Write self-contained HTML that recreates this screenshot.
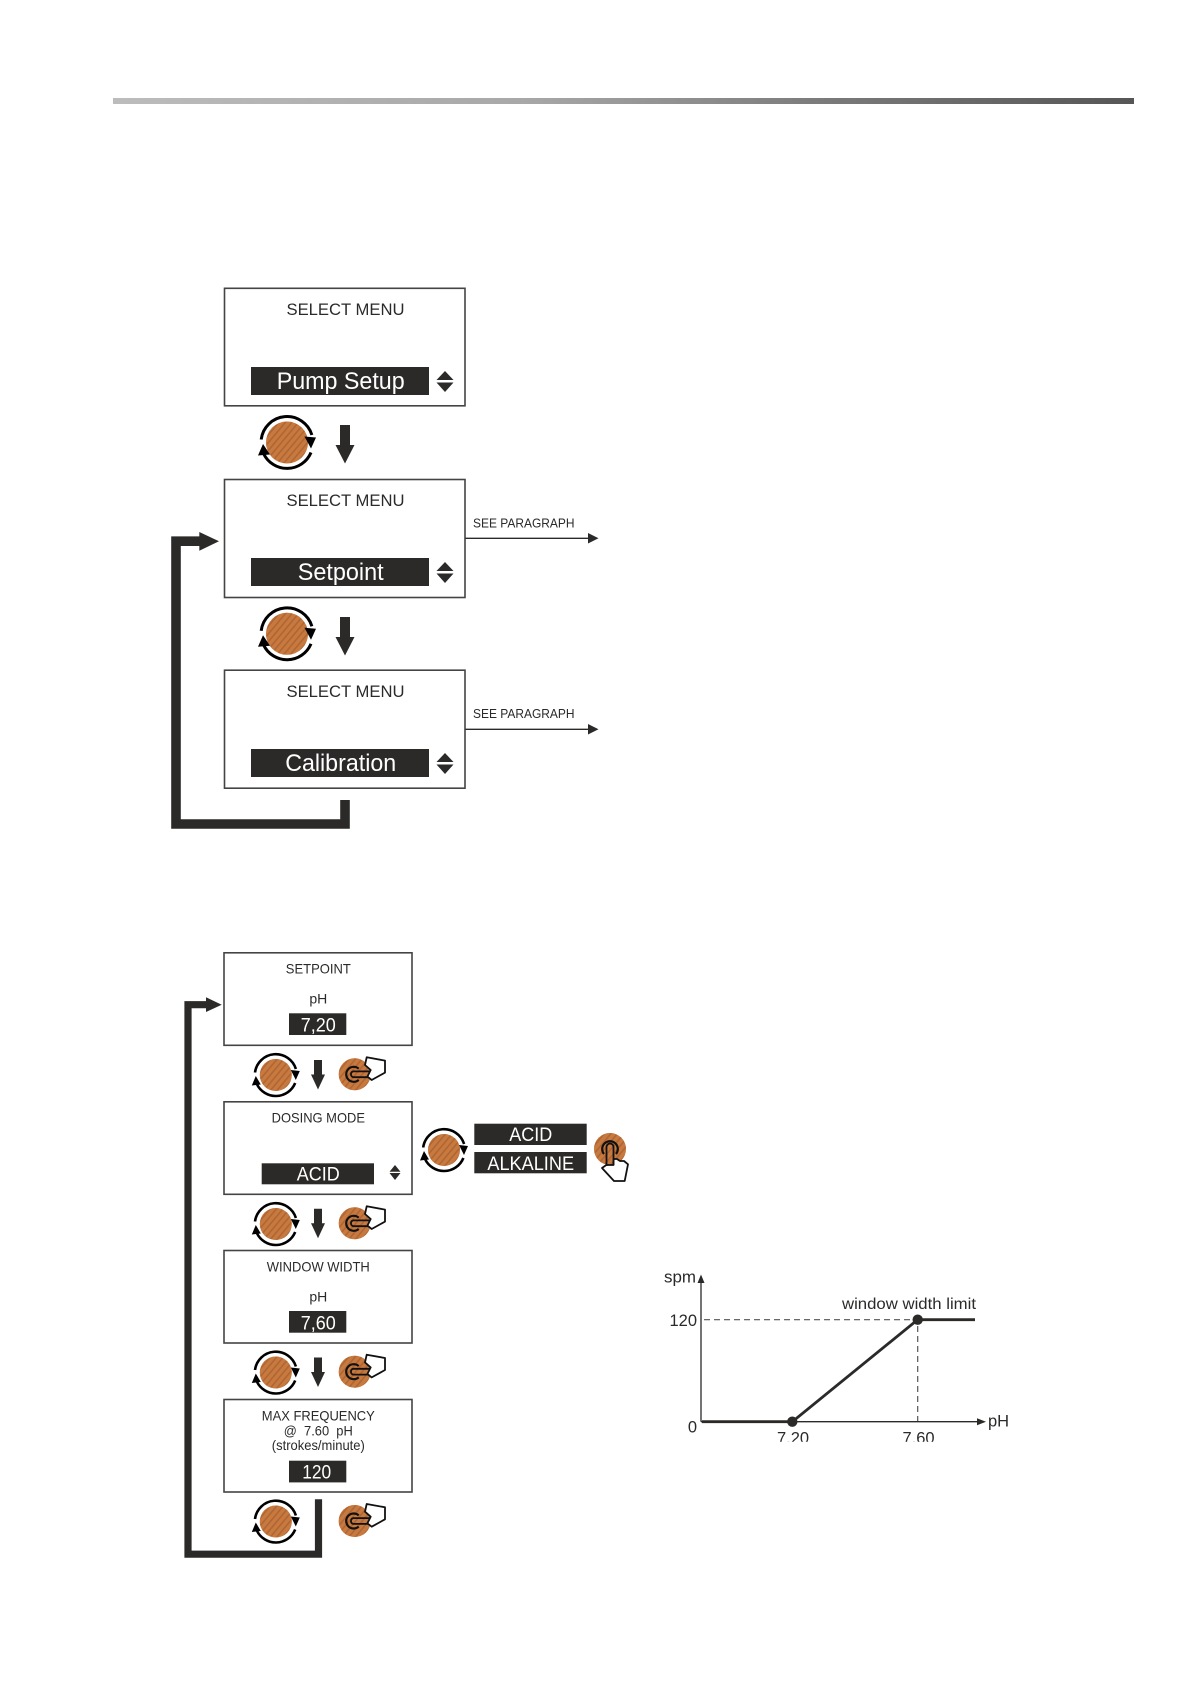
<!DOCTYPE html>
<html><head><meta charset="utf-8"><style>
html,body{margin:0;padding:0;background:#fff}
svg{display:block}
text{font-family:"Liberation Sans",sans-serif;fill:#2b2a29}
.w{fill:#fff}
.m{text-anchor:middle}
.b{fill:none;stroke:#444;stroke-width:1.6}
.bar{fill:#2b2a29}
.t{fill:#2b2a29}
</style></head><body>
<svg width="1191" height="1684" viewBox="0 0 1191 1684" xmlns="http://www.w3.org/2000/svg">
<defs>
<linearGradient id="g"><stop offset="0" stop-color="#bcbcbc"/><stop offset=".4" stop-color="#a8a8a8"/><stop offset=".7" stop-color="#7a7a7a"/><stop offset="1" stop-color="#565656"/></linearGradient>
<pattern id="st" width="5" height="5" patternUnits="userSpaceOnUse" patternTransform="rotate(-50)"><rect width="5" height="5" fill="#c77a40"/><rect width="5" height="1.6" fill="#a5592a"/></pattern>
<g id="disc"><circle r="21" fill="#c77a40"/><circle r="21" fill="url(#st)" opacity=".65"/></g>
<g id="k">
<use href="#disc"/>
<path d="M-25.8 -3A26 26 0 0 1 24.9 -7.5" fill="none" stroke="#000" stroke-width="3"/>
<path d="M24 10A26 26 0 0 1 -23.5 11" fill="none" stroke="#000" stroke-width="3"/>
<path d="M17.5 -6L29 -5 24 6Z M-29 13L-17 12 -24 1.5Z" fill="#000"/>
</g>
<g id="ks">
<circle r="16" fill="#c77a40"/><circle r="16" fill="url(#st)" opacity=".65"/>
<path d="M-20.8 -2.5A21 21 0 0 1 20.1 -6" fill="none" stroke="#000" stroke-width="2.6"/>
<path d="M19.4 8A21 21 0 0 1 -19 9" fill="none" stroke="#000" stroke-width="2.6"/>
<path d="M15 -5L24 -4 20 5Z M-24 10.5L-15 9.5 -20 1Z" fill="#000"/>
</g>
<g id="push">
<circle r="16" fill="#c77a40"/><circle r="16" fill="url(#st)" opacity=".65"/>
<path d="M4 -5.6A7.5 7.5 0 1 0 4 5.6" fill="none" stroke="#111" stroke-width="2.2"/>
<path d="M16 -2.9H-1.5A3 3 0 0 0 -1.5 2.9H16" fill="none" stroke="#111" stroke-width="1.8"/>
<path d="M12 -17L30.3 -13.7V-1.7L17 5.7 12.7 2.3 16 -4.3 10.3 -9.3Z" fill="#fff" stroke="#111" stroke-width="1.8" stroke-linejoin="round"/>
</g>
<g id="press">
<circle r="16" fill="#c77a40"/><circle r="16" fill="url(#st)" opacity=".65"/>
<path d="M-6 5A7.8 7.8 0 1 1 6 5" fill="none" stroke="#111" stroke-width="2.2"/>
<path d="M-3.7 16L-8 19 4 32H14.7L18 15.3 14 12 10 12 7 10H3.5L3.5 16Z" fill="#fff" stroke="#111" stroke-width="1.8" stroke-linejoin="round"/>
<path d="M-3.5 17V-2A3.5 3.5 0 0 1 3.5 -2V16" fill="none" stroke="#111" stroke-width="1.8"/>
</g>
<g id="ud"><path d="M0 -10L8.5 -1H-8.5Z M0 11L8.5 1.5H-8.5Z" fill="#2b2a29"/></g>
<g id="dn"><path d="M-5 -19H5V1H9.5L0 19.5-9.5 1H-5Z" fill="#2b2a29"/></g>
<g id="dn2"><path d="M-4 -14.5H4V0H7L0 15-7 0H-4Z" fill="#2b2a29"/></g>
</defs>
<rect width="1191" height="1684" fill="#fff"/>
<rect x="113" y="98" width="1021" height="6" fill="url(#g)"/>

<!-- top section -->
<rect class="b" x="224.5" y="288.3" width="240.5" height="117.5"/>
<text class="m" x="345.5" y="315" font-size="17" textLength="118" lengthAdjust="spacingAndGlyphs">SELECT MENU</text>
<rect class="bar" x="251" y="367" width="178" height="28"/>
<text class="w m" x="340.7" y="389" font-size="24" textLength="128" lengthAdjust="spacingAndGlyphs">Pump Setup</text>
<use href="#ud" x="445" y="381"/>
<use href="#k" x="287" y="442.5"/>
<use href="#dn" x="345" y="444"/>

<rect class="b" x="224.5" y="479.5" width="240.5" height="118"/>
<text class="m" x="345.5" y="506" font-size="17" textLength="118" lengthAdjust="spacingAndGlyphs">SELECT MENU</text>
<rect class="bar" x="251" y="558" width="178" height="28"/>
<text class="w m" x="340.7" y="580" font-size="24" textLength="86" lengthAdjust="spacingAndGlyphs">Setpoint</text>
<use href="#ud" x="445" y="572"/>
<use href="#k" x="287" y="633.8"/>
<use href="#dn" x="345" y="636"/>
<text x="473" y="527.3" font-size="13" textLength="101.5" lengthAdjust="spacingAndGlyphs">SEE PARAGRAPH</text>
<path d="M465.5 538.3H589" stroke="#2b2a29" stroke-width="1.4"/><path d="M588 533L598.5 538.3 588 543.5Z" class="t"/>

<rect class="b" x="224.5" y="670.2" width="240.5" height="118"/>
<text class="m" x="345.5" y="697" font-size="17" textLength="118" lengthAdjust="spacingAndGlyphs">SELECT MENU</text>
<rect class="bar" x="251" y="749" width="178" height="28"/>
<text class="w m" x="340.7" y="771" font-size="24" textLength="111" lengthAdjust="spacingAndGlyphs">Calibration</text>
<use href="#ud" x="445" y="763"/>
<text x="473" y="718" font-size="13" textLength="101.5" lengthAdjust="spacingAndGlyphs">SEE PARAGRAPH</text>
<path d="M465.5 729.3H589" stroke="#2b2a29" stroke-width="1.4"/><path d="M588 724L598.5 729.3 588 734.5Z" class="t"/>

<path d="M345 800V824H176V541.2H200" fill="none" stroke="#2b2a29" stroke-width="9.6" stroke-linejoin="miter"/>
<path d="M199.3 532L219 541.2 199.3 550.7Z" class="t"/>

<!-- bottom section -->
<rect class="b" x="224" y="952.8" width="188" height="92.5"/>
<text class="m" x="318.3" y="973.3" font-size="14" textLength="65" lengthAdjust="spacingAndGlyphs">SETPOINT</text>
<text class="m" x="318.3" y="1003.3" font-size="14">pH</text>
<rect class="bar" x="289" y="1013.3" width="57.3" height="21.7"/>
<text class="w m" x="318.3" y="1031.7" font-size="19.5" textLength="35" lengthAdjust="spacingAndGlyphs">7,20</text>

<rect class="b" x="224" y="1101.8" width="188" height="92.5"/>
<text class="m" x="318.3" y="1122.7" font-size="14" textLength="93.3" lengthAdjust="spacingAndGlyphs">DOSING MODE</text>
<rect class="bar" x="261.7" y="1163.3" width="112.3" height="21"/>
<text class="w m" x="318.3" y="1180.7" font-size="19.5" textLength="43" lengthAdjust="spacingAndGlyphs">ACID</text>
<path d="M395 1165L400.5 1171.7H389.5Z M395 1180L400.5 1173H389.5Z" class="t"/>

<rect class="b" x="224" y="1250.5" width="188" height="92.5"/>
<text class="m" x="318.3" y="1271.7" font-size="14" textLength="103" lengthAdjust="spacingAndGlyphs">WINDOW WIDTH</text>
<text class="m" x="318.3" y="1301.7" font-size="14">pH</text>
<rect class="bar" x="289" y="1311" width="57.3" height="21.7"/>
<text class="w m" x="318.3" y="1329.3" font-size="19.5" textLength="35" lengthAdjust="spacingAndGlyphs">7,60</text>

<rect class="b" x="224" y="1399.5" width="188" height="92.5"/>
<text class="m" x="318.3" y="1420.7" font-size="14" textLength="113" lengthAdjust="spacingAndGlyphs">MAX FREQUENCY</text>
<text class="m" x="318.3" y="1435.7" font-size="14" xml:space="preserve" textLength="69" lengthAdjust="spacingAndGlyphs">@  7.60  pH</text>
<text class="m" x="318.3" y="1450" font-size="14" textLength="93" lengthAdjust="spacingAndGlyphs">(strokes/minute)</text>
<rect class="bar" x="289" y="1460.7" width="57.3" height="21.7"/>
<text class="w m" x="316.7" y="1478.3" font-size="19.5" textLength="29" lengthAdjust="spacingAndGlyphs">120</text>

<use href="#ks" x="275.8" y="1075"/>
<use href="#ks" x="275.8" y="1224"/>
<use href="#ks" x="275.8" y="1372.5"/>
<use href="#ks" x="275.8" y="1521.5"/>
<use href="#dn2" x="318" y="1074.5"/>
<use href="#dn2" x="318" y="1223.3"/>
<use href="#dn2" x="318" y="1372"/>
<use href="#push" x="354.7" y="1074.3"/>
<use href="#push" x="354.7" y="1223.3"/>
<use href="#push" x="354.7" y="1371.7"/>
<use href="#push" x="354.7" y="1521"/>

<use href="#ks" x="444" y="1150"/>
<rect class="bar" x="474.3" y="1123.7" width="112.4" height="21.3"/>
<text class="w m" x="530.7" y="1141" font-size="19.5" textLength="43" lengthAdjust="spacingAndGlyphs">ACID</text>
<rect class="bar" x="474.3" y="1152" width="112.4" height="21.3"/>
<text class="w m" x="530.7" y="1170" font-size="19.5" textLength="86.7" lengthAdjust="spacingAndGlyphs">ALKALINE</text>
<use href="#press" x="610" y="1149"/>

<path d="M318.5 1499.3V1554.2H188V1004.7H207" fill="none" stroke="#2b2a29" stroke-width="7.2"/>
<path d="M206 997.3L221.7 1004.7 206 1012Z" class="t"/>

<!-- chart -->
<path d="M701 1421.7V1280M701 1421.7H980" stroke="#2b2a29" stroke-width="1.3" fill="none"/>
<path d="M701 1274.5L704.5 1283H697.5Z M986 1421.7L977 1418.2V1425.2Z" class="t"/>
<path d="M704 1319.7H917.7V1421" stroke="#555" stroke-width="1.2" stroke-dasharray="6 4" fill="none"/>
<path d="M702 1421.7H792.3L917.7 1319.7H975" stroke="#2b2a29" stroke-width="2.8" fill="none"/>
<circle cx="792.3" cy="1421.7" r="5.2" class="t"/>
<circle cx="917.7" cy="1319.7" r="5.2" class="t"/>
<text x="696" y="1282.3" font-size="16.5" text-anchor="end" textLength="32" lengthAdjust="spacingAndGlyphs">spm</text>
<text x="697" y="1326" font-size="16.5" text-anchor="end">120</text>
<text x="697" y="1432.3" font-size="16.5" text-anchor="end">0</text>
<text class="m" x="793" y="1443.5" font-size="16.5">7.20</text>
<text class="m" x="918.5" y="1443.5" font-size="16.5">7.60</text>
<rect x="770" y="1441.8" width="180" height="6" fill="#fff"/>
<text x="988" y="1426.7" font-size="16.5">pH</text>
<text x="842" y="1309" font-size="16" textLength="134" lengthAdjust="spacingAndGlyphs">window width limit</text>
</svg>
</body></html>
